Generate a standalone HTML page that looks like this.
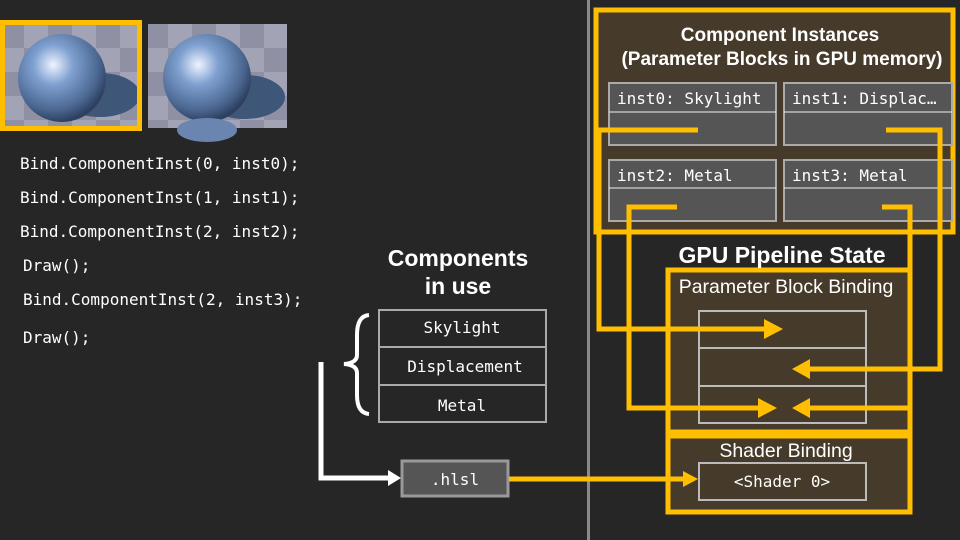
<!DOCTYPE html>
<html><head><meta charset="utf-8"><style>
body{margin:0;background:#262626;}
svg{display:block}
.m{font-family:"DejaVu Sans Mono","Liberation Mono",monospace;fill:#fff;font-size:16px}
.s{font-family:"Liberation Sans","DejaVu Sans",sans-serif;fill:#fff}
</style></head><body>
<svg width="960" height="540" viewBox="0 0 960 540">
<defs>
<radialGradient id="sp" cx="0.4" cy="0.35" r="0.65">
<stop offset="0" stop-color="#eef4ff"/><stop offset="0.35" stop-color="#7fa0d0"/><stop offset="0.8" stop-color="#4a6690"/><stop offset="1" stop-color="#2e4060"/></radialGradient>
<pattern id="ck" width="48" height="48" patternUnits="userSpaceOnUse"><rect width="48" height="48" fill="#8f90a4"/><rect width="24" height="24" fill="#a2a3b5"/><rect x="24" y="24" width="24" height="24" fill="#a2a3b5"/></pattern>
</defs>
<rect width="960" height="540" fill="#262626"/>
<rect x="5" y="25" width="133" height="101" fill="url(#ck)"/>
<ellipse cx="100" cy="95" rx="40" ry="22" fill="#3e5678"/>
<circle cx="62" cy="78" r="44" fill="url(#sp)"/>
<rect x="148" y="24" width="139" height="104" fill="url(#ck)"/>
<ellipse cx="245" cy="97" rx="40" ry="22" fill="#3e5678"/>
<circle cx="207" cy="78" r="44" fill="url(#sp)"/>
<ellipse cx="207" cy="130" rx="30" ry="12" fill="#6a86b0"/>
<rect x="2.5" y="22.5" width="137" height="106" fill="none" stroke="#ffbf00" stroke-width="5"/>
<text class="m" x="20" y="169">Bind.ComponentInst(0, inst0);</text>
<text class="m" x="20" y="203">Bind.ComponentInst(1, inst1);</text>
<text class="m" x="20" y="237">Bind.ComponentInst(2, inst2);</text>
<text class="m" x="23" y="271">Draw();</text>
<text class="m" x="23" y="305">Bind.ComponentInst(2, inst3);</text>
<text class="m" x="23" y="343">Draw();</text>
<text class="s" x="458" y="266" font-size="23" font-weight="bold" text-anchor="middle">Components</text>
<text class="s" x="458" y="294" font-size="23" font-weight="bold" text-anchor="middle">in use</text>
<rect x="379" y="310" width="167" height="112" fill="#262626" stroke="#aaa" stroke-width="2"/>
<line x1="379" y1="347" x2="546" y2="347" stroke="#aaa" stroke-width="2"/>
<line x1="379" y1="385" x2="546" y2="385" stroke="#aaa" stroke-width="2"/>
<text class="m" x="462" y="333" text-anchor="middle">Skylight</text>
<text class="m" x="465" y="372" text-anchor="middle">Displacement</text>
<text class="m" x="462" y="411" text-anchor="middle">Metal</text>
<path d="M369 315 Q357 316 357 335 L357 355 Q357 363 344 364 Q357 365 357 373 L357 395 Q357 413 369 414" fill="none" stroke="#fff" stroke-width="4"/>
<polyline points="321,362 321,478 390,478" fill="none" stroke="#fff" stroke-width="5"/>
<polygon points="388,470 401,478 388,486" fill="#fff"/>
<rect x="402" y="461" width="106" height="35" fill="#555" stroke="#999" stroke-width="3"/>
<text class="m" x="455" y="485" text-anchor="middle">.hlsl</text>
<rect x="587" y="0" width="3" height="540" fill="#8a8a8a"/>
<rect x="596" y="10" width="357" height="222" fill="#463a2a" stroke="#ffbf00" stroke-width="5"/>
<text class="s" x="780" y="41" font-size="19" font-weight="bold" text-anchor="middle">Component Instances</text>
<text class="s" x="782" y="65" font-size="19" font-weight="bold" text-anchor="middle">(Parameter Blocks in GPU memory)</text>
<g stroke="#aaa" stroke-width="2" fill="#555">
<rect x="609" y="83" width="167" height="62"/><rect x="784" y="83" width="168" height="62"/>
<rect x="609" y="160" width="167" height="61"/><rect x="784" y="160" width="168" height="61"/>
</g>
<g stroke="#eee" stroke-width="1"><line x1="609" y1="112" x2="776" y2="112"/><line x1="784" y1="112" x2="952" y2="112"/><line x1="609" y1="188" x2="776" y2="188"/><line x1="784" y1="188" x2="952" y2="188"/></g>
<text class="m" x="617" y="104">inst0: Skylight</text>
<text class="m" x="792" y="104">inst1: Displac…</text>
<text class="m" x="617" y="181">inst2: Metal</text>
<text class="m" x="792" y="181">inst3: Metal</text>
<rect x="668" y="270" width="242" height="162" fill="#463a2a" stroke="#ffbf00" stroke-width="5"/>
<rect x="668" y="436" width="242" height="76" fill="#463a2a" stroke="#ffbf00" stroke-width="5"/>
<text class="s" x="782" y="263" font-size="23" font-weight="bold" text-anchor="middle">GPU Pipeline State</text>
<text class="s" x="786" y="293" font-size="19.5" text-anchor="middle">Parameter Block Binding</text>
<text class="s" x="786" y="457" font-size="19.5" text-anchor="middle">Shader Binding</text>
<g stroke="#bbb" stroke-width="2" fill="none">
<rect x="699" y="311" width="167" height="112"/><line x1="699" y1="348" x2="866" y2="348"/><line x1="699" y1="386" x2="866" y2="386"/>
<rect x="699" y="463" width="167" height="37"/></g>
<text class="m" x="782" y="487" text-anchor="middle">&lt;Shader 0&gt;</text>
<g fill="none" stroke="#ffbf00" stroke-width="5">
<polyline points="698,130 599,130 599,329 768,329"/>
<polyline points="886,130 940,130 940,369 806,369"/>
<polyline points="677,207 629,207 629,408 762,408"/>
<polyline points="882,207 910,207 910,408 806,408"/>
<polyline points="509,479 684,479"/>
</g>
<g fill="#ffbf00">
<polygon points="764,319 783,329 764,339"/>
<polygon points="810,359 792,369 810,379"/>
<polygon points="758,398 777,408 758,418"/>
<polygon points="810,398 792,408 810,418"/>
<polygon points="683,471 698,479 683,487"/>
</g>
</svg>
</body></html>
